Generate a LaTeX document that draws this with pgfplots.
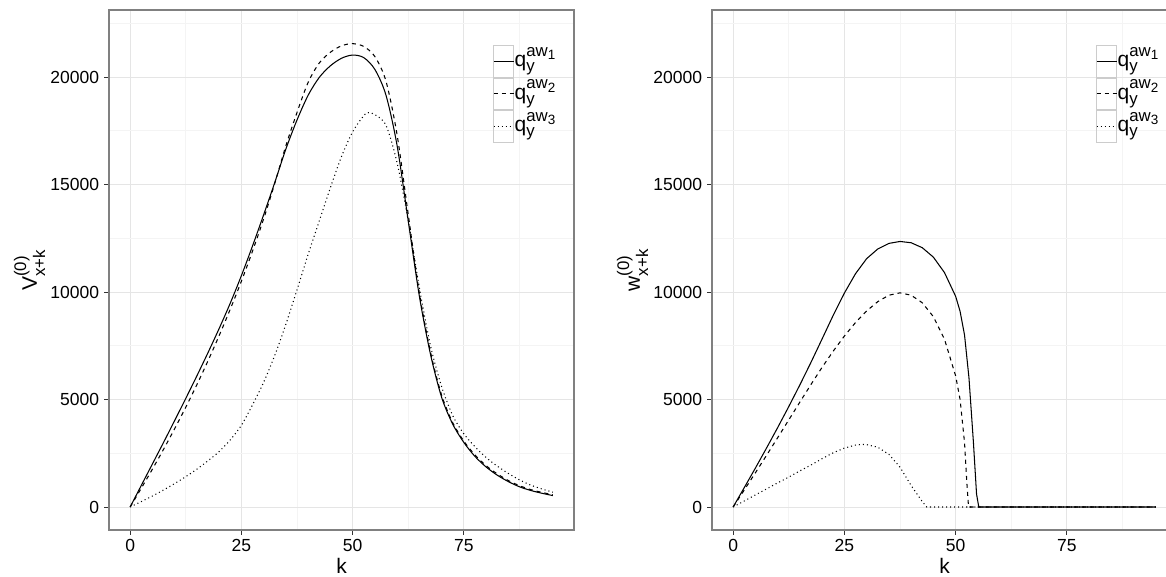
\documentclass[border=0pt]{standalone}
\usepackage{pgfplots}
\pgfplotsset{compat=1.18}
\usepackage{amsmath}
\usepackage{fontspec}
\setmainfont{Liberation Sans}
\DeclareMathSizes{12}{12}{9.6}{7.7}
\definecolor{gridmaj}{HTML}{E5E5E5}
\definecolor{gridmin}{HTML}{F4F4F4}
\pgfplotsset{
  ggpanel/.style={
    scale only axis,
    width=265.71pt, height=297.14pt,
    anchor=south west,
    xmin=-4.75, xmax=99.75,
    ymin=-1070, ymax=23116,
    xtick={0,25,50,75},
    xticklabels={0,25,50,75},
    minor xtick={12.5,37.5,62.5,87.5},
    ytick={0,5000,10000,15000,20000},
    yticklabels={0,5000,10000,15000,20000},
    minor ytick={2500,7500,12500,17500,22500},
    tick pos=left,
    tick align=outside,
    major tick length=2.6pt,
    minor tick length=0pt,
    tick style={black!80, line width=0.5pt},
    axis line style={black!50, line width=0.6pt},
    grid=both,
    major grid style={gridmaj, line width=0.55pt},
    minor grid style={gridmin, line width=0.55pt},
    ticklabel style={font=\fontsize{10}{12}\selectfont, text=black},
    xticklabel style={inner sep=0pt, yshift=-2.5pt},
    yticklabel style={inner sep=0pt, xshift=-2.9pt},
    xlabel={k},
    xlabel style={font=\fontsize{12}{14}\selectfont, at={(axis description cs:0.5,0)}, anchor=base, yshift=-25.1pt, inner sep=0pt},
    ylabel style={font=\fontsize{12}{14}\selectfont, at={(axis description cs:-0.155,0.5)}, anchor=base, inner sep=0pt},
    legend cell align=left,
    legend style={
      at={(axis description cs:0.826,0.9327)}, anchor=north west,
      draw=none, fill=none, inner sep=0pt, outer sep=0pt,
      row sep=0pt,
      font=\fontsize{12}{14}\selectfont,
      nodes={inner sep=0pt, outer sep=0pt, text height=9pt, text depth=2.8pt},
      /tikz/every odd column/.append style={column sep=0.3pt},
    },
    legend image code/.code={
      \draw[draw=black!20, solid, line width=0.5pt] (0pt,-9.05pt) rectangle (11.4pt,9.05pt);
      \draw[#1] (0pt,0pt) -- (11.4pt,0pt);
    },
  },
  s1/.style={black, solid, line width=0.6pt},
  s2/.style={black, line width=0.6pt, dash pattern=on 2.3pt off 2.3pt},
  s3/.style={black, line width=0.6pt, dash pattern=on 0.6pt off 1.7pt},
}
\begin{document}
\begin{tikzpicture}
\path[use as bounding box, clip] (0,0) rectangle (666.29pt,329.71pt);
% ---------------- left panel ----------------
\begin{axis}[ggpanel, at={(62.29pt,26.86pt)},
  ylabel={$\text{V}^{\text{(0)}}_{\text{x+k}}$}]
\addplot[s1, smooth, tension=0.5] coordinates {
(0,0) (2.5,1000) (5,2000) (7.5,3000) (10,4020) (12.5,5050) (15,6100) (17.5,7180)
(20,8300) (22.5,9480) (25,10760) (27.5,12140) (30,13590) (32.5,15090) (35,16650)
(37.5,18000) (40,19150) (42.5,19980) (45,20520) (47.5,20870) (50,21020) (52.5,20900)
(55,20350) (57.5,19150) (60,16800) (62.5,13300) (65,9800) (67.5,7100) (70,5100)
(72.5,3850) (75,3000) (77.5,2350) (80,1860) (82.5,1480) (85,1180) (87.5,940)
(90,770) (92.5,640) (95,530)};
\addlegendentry{$\text{q}_{\text{y}}^{\text{aw}_{\text{1}}}$}
\addplot[s2, smooth, tension=0.5] coordinates {
(0,0) (2.5,870) (5,1760) (7.5,2680) (10,3640) (12.5,4640) (15,5690) (17.5,6800)
(20,7970) (22.5,9200) (25,10500) (27.5,11900) (30,13400) (32.5,15050) (35,16800)
(37.5,18350) (40,19750) (42.5,20650) (45,21150) (47.5,21450) (50,21550) (52.5,21420)
(55,20950) (57.5,19800) (60,17300) (62.5,13600) (65,9950) (67.5,7200) (70,5200)
(72.5,3920) (75,3060) (77.5,2420) (80,1920) (82.5,1540) (85,1230) (87.5,990)
(90,810) (92.5,680) (95,570)};
\addlegendentry{$\text{q}_{\text{y}}^{\text{aw}_{\text{2}}}$}
\addplot[s3, smooth, tension=0.5] coordinates {
(0,0) (2.5,250) (5,510) (7.5,790) (10,1090) (12.5,1410) (15,1760) (17.5,2150)
(20,2580) (22.5,3120) (25,3800) (27.5,4750) (30,5800) (32.5,7050) (35,8500)
(37.5,10100) (40,11750) (42.5,13300) (45,14850) (47.5,16300) (50,17450) (52.5,18200)
(53.5,18340) (55,18250) (57.5,17750) (60,16000) (62.5,13300) (65,10200) (67.5,7500)
(70,5600) (72.5,4250) (75,3400) (77.5,2800) (80,2300) (82.5,1900) (85,1560)
(87.5,1260) (90,1020) (92.5,840) (95,690)};
\addlegendentry{$\text{q}_{\text{y}}^{\text{aw}_{\text{3}}}$}
\end{axis}
% ---------------- right panel ----------------
\begin{axis}[ggpanel, at={(406.86pt,26.86pt)},
  ylabel={$\text{w}^{\text{(0)}}_{\text{x+k}}$}]
\addplot[s1] coordinates {
(0,0) (2.5,900) (5,1810) (7.5,2740) (10,3690) (12.5,4670) (15,5680) (17.5,6730)
(20,7820) (22.5,8920) (25,9950) (27.5,10850) (30,11550) (32.5,12000) (35,12260)
(37.5,12350) (40,12290) (42.5,12060) (45,11620) (47.5,10900) (50,9800) (51,9100)
(52,8000) (53,6000) (54,3000) (54.7,600) (55.2,0) (60,0) (70,0) (80,0) (95,0)};
\addlegendentry{$\text{q}_{\text{y}}^{\text{aw}_{\text{1}}}$}
\addplot[s2] coordinates {
(0,0) (2.5,790) (5,1590) (7.5,2400) (10,3220) (12.5,4050) (15,4880) (17.5,5700)
(20,6500) (22.5,7250) (25,7950) (27.5,8580) (30,9120) (32.5,9550) (35,9850)
(37.5,9960) (40,9850) (42.5,9500) (45,8850) (47.5,7800) (50,6100) (51,5000)
(52,3000) (52.5,1200) (52.9,0) (60,0) (70,0) (80,0) (95,0)};
\addlegendentry{$\text{q}_{\text{y}}^{\text{aw}_{\text{2}}}$}
\addplot[s3] coordinates {
(0,0) (2.5,280) (5,560) (7.5,840) (10,1120) (12.5,1390) (15,1680) (17.5,1950)
(20,2250) (22.5,2520) (25,2740) (27.5,2880) (29,2910) (30,2900) (32.5,2780)
(35,2450) (37.5,1850) (40,1000) (42.5,250) (43.5,0) (50,0) (60,0) (70,0) (80,0) (95,0)};
\addlegendentry{$\text{q}_{\text{y}}^{\text{aw}_{\text{3}}}$}
\end{axis}
\end{tikzpicture}
\end{document}
